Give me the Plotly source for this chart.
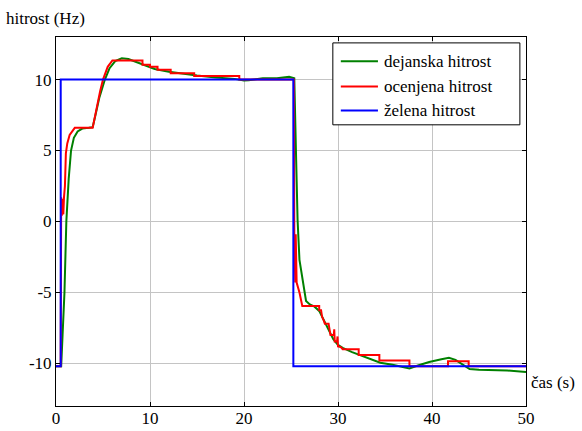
import plotly.graph_objects as go

# želena hitrost (reference)
t_ref = [0, 0.5, 0.5, 25.25, 25.25, 50]
v_ref = [-10.2, -10.2, 10.0, 10.0, -10.2, -10.2]

# dejanska hitrost (actual)
t_act = [0, 0.55, 0.7, 0.9, 1.1, 1.35, 1.6, 1.9, 2.3, 2.8, 3.5, 3.9, 4.2, 4.6, 5.2, 5.7, 6.3, 7.0,
         7.7, 8.5, 9.5, 10.5, 12, 13.5, 15, 17, 19, 20, 20.5, 22, 23.5, 24.8, 25.35, 25.55, 25.7,
         25.9, 26.4, 26.6, 27.0, 27.5, 28.0, 28.5, 29.0, 29.5, 30.0, 30.5, 31.5, 32.5, 33.5, 34.5,
         35.8, 37.0, 37.6, 38.5, 39.7, 41.0, 41.8, 42.5, 43.3, 44.0, 45, 46, 48, 50]
v_act = [-10.2, -10.2, -8.0, -5.0, 0.0, 3.0, 5.0, 5.9, 6.35, 6.55, 6.6, 6.65, 7.5, 8.7, 10.0, 10.8,
         11.3, 11.5, 11.45, 11.25, 11.0, 10.75, 10.55, 10.4, 10.28, 10.15, 10.05, 9.93, 9.95, 10.1,
         10.1, 10.2, 10.1, 4.3, 0.1, -2.7, -5.0, -5.6, -5.85, -6.0, -6.3, -7.0, -7.7, -8.3, -8.7,
         -8.9, -9.2, -9.45, -9.7, -9.95, -10.1, -10.25, -10.35, -10.15, -9.9, -9.7, -9.6, -9.75,
         -10.1, -10.4, -10.45, -10.47, -10.5, -10.6]

# ocenjena hitrost (estimated)
t_est = [0, 0.5, 0.55, 0.62, 0.7, 0.78, 0.85, 0.95, 1.05, 1.2, 1.45, 1.8, 2.0, 3.9, 4.3, 4.7, 5.0,
         5.5, 6.0, 9.2, 9.2, 10.0, 10.0, 10.8, 10.8, 12.2, 12.2, 14.7, 14.7, 19.5, 19.5, 25.3,
         25.35, 25.45, 25.5, 25.6, 25.9, 26.2, 28.0, 28.0, 28.2, 28.3, 28.5, 28.6, 29.0, 29.1,
         29.2, 29.55, 29.6, 29.65, 29.9, 29.95, 30.0, 30.3, 30.5, 32.2, 32.2, 34.4, 34.4, 37.6,
         37.6, 41.7, 41.7, 43.9, 43.9, 50]
v_est = [-10.2, -10.2, 1.7, 0.4, 1.6, 0.5, 1.7, 2.5, 4.8, 5.5, 6.1, 6.4, 6.6, 6.6, 8.0, 9.2, 10.0,
         10.9, 11.35, 11.35, 11.05, 11.05, 10.9, 10.9, 10.7, 10.7, 10.45, 10.45, 10.25, 10.25,
         10.0, 10.0, -0.8, -4.3, -0.9, -4.3, -5.0, -5.95, -5.95, -6.25, -6.25, -6.7, -7.0, -7.2,
         -7.2, -7.5, -8.0, -8.0, -7.6, -8.45, -8.45, -8.1, -8.8, -8.85, -9.0, -9.0, -9.4, -9.4,
         -9.8, -9.8, -10.2, -10.2, -9.85, -9.85, -10.2, -10.2]

x_ticks = [0, 10, 20, 30, 40, 50]
x_tick_labels = ["0", "10", "20", "30", "40", "50"]
y_ticks = [-10, -5, 0, 5, 10]
y_tick_labels = ["-10", "-5", "0", "5", "10"]

series_names = ["dejanska hitrost", "ocenjena hitrost", "želena hitrost"]
series_colors = ["#008000", "#ff0000", "#0000ff"]

FONT = "Liberation Serif"

fig = go.Figure()
for (tx, vy), name, col in zip([(t_act, v_act), (t_est, v_est), (t_ref, v_ref)],
                               series_names, series_colors):
    fig.add_trace(go.Scatter(x=tx, y=vy, mode="lines", name=name,
                             line=dict(color=col, width=2), showlegend=False))

axis_common = dict(showline=True, linecolor="black", linewidth=1, mirror="allticks",
                   ticks="inside", ticklen=4, tickcolor="black", showgrid=True,
                   gridcolor="#c4c4c4", gridwidth=1, zeroline=False, automargin=False,
                   tickfont=dict(family=FONT, size=17, color="black"))

# legend box drawn as shapes + text (paper coordinates)
shapes = [dict(type="rect", xref="paper", yref="paper", x0=0.589, x1=0.987, y0=0.762, y1=0.984,
               line=dict(color="black", width=1), fillcolor="white", layer="above")]
annotations = []
row_y = [0.934, 0.866, 0.801]
for name, col, yy in zip(series_names, series_colors, row_y):
    shapes.append(dict(type="line", xref="paper", yref="paper", x0=0.606, x1=0.685, y0=yy, y1=yy,
                       line=dict(color=col, width=2), layer="above"))
    annotations.append(dict(text=name, xref="paper", yref="paper", x=0.694, y=yy,
                            xanchor="left", yanchor="middle", showarrow=False,
                            font=dict(family=FONT, size=17, color="black")))

annotations += [
    dict(text="hitrost (Hz)", xref="paper", yref="paper", x=-0.11, y=1.0,
         xanchor="left", yanchor="bottom", yshift=7, showarrow=False,
         font=dict(family=FONT, size=17, color="black")),
    dict(text="čas (s)", xref="paper", yref="paper", x=1.0, y=0.0,
         xanchor="left", yanchor="bottom", xshift=3, yshift=12, showarrow=False,
         font=dict(family=FONT, size=17, color="black")),
]

fig.update_layout(
    width=582, height=431,
    margin=dict(l=56, r=56, t=37, b=25),
    paper_bgcolor="white", plot_bgcolor="white",
    showlegend=False,
    xaxis=dict(range=[0, 50], tickvals=x_ticks, ticktext=x_tick_labels,
               ticklabelstandoff=-3, **axis_common),
    yaxis=dict(range=[-13, 13], tickvals=y_ticks, ticktext=y_tick_labels,
               **axis_common),
    shapes=shapes,
    annotations=annotations,
)

fig.write_html("out.html")
